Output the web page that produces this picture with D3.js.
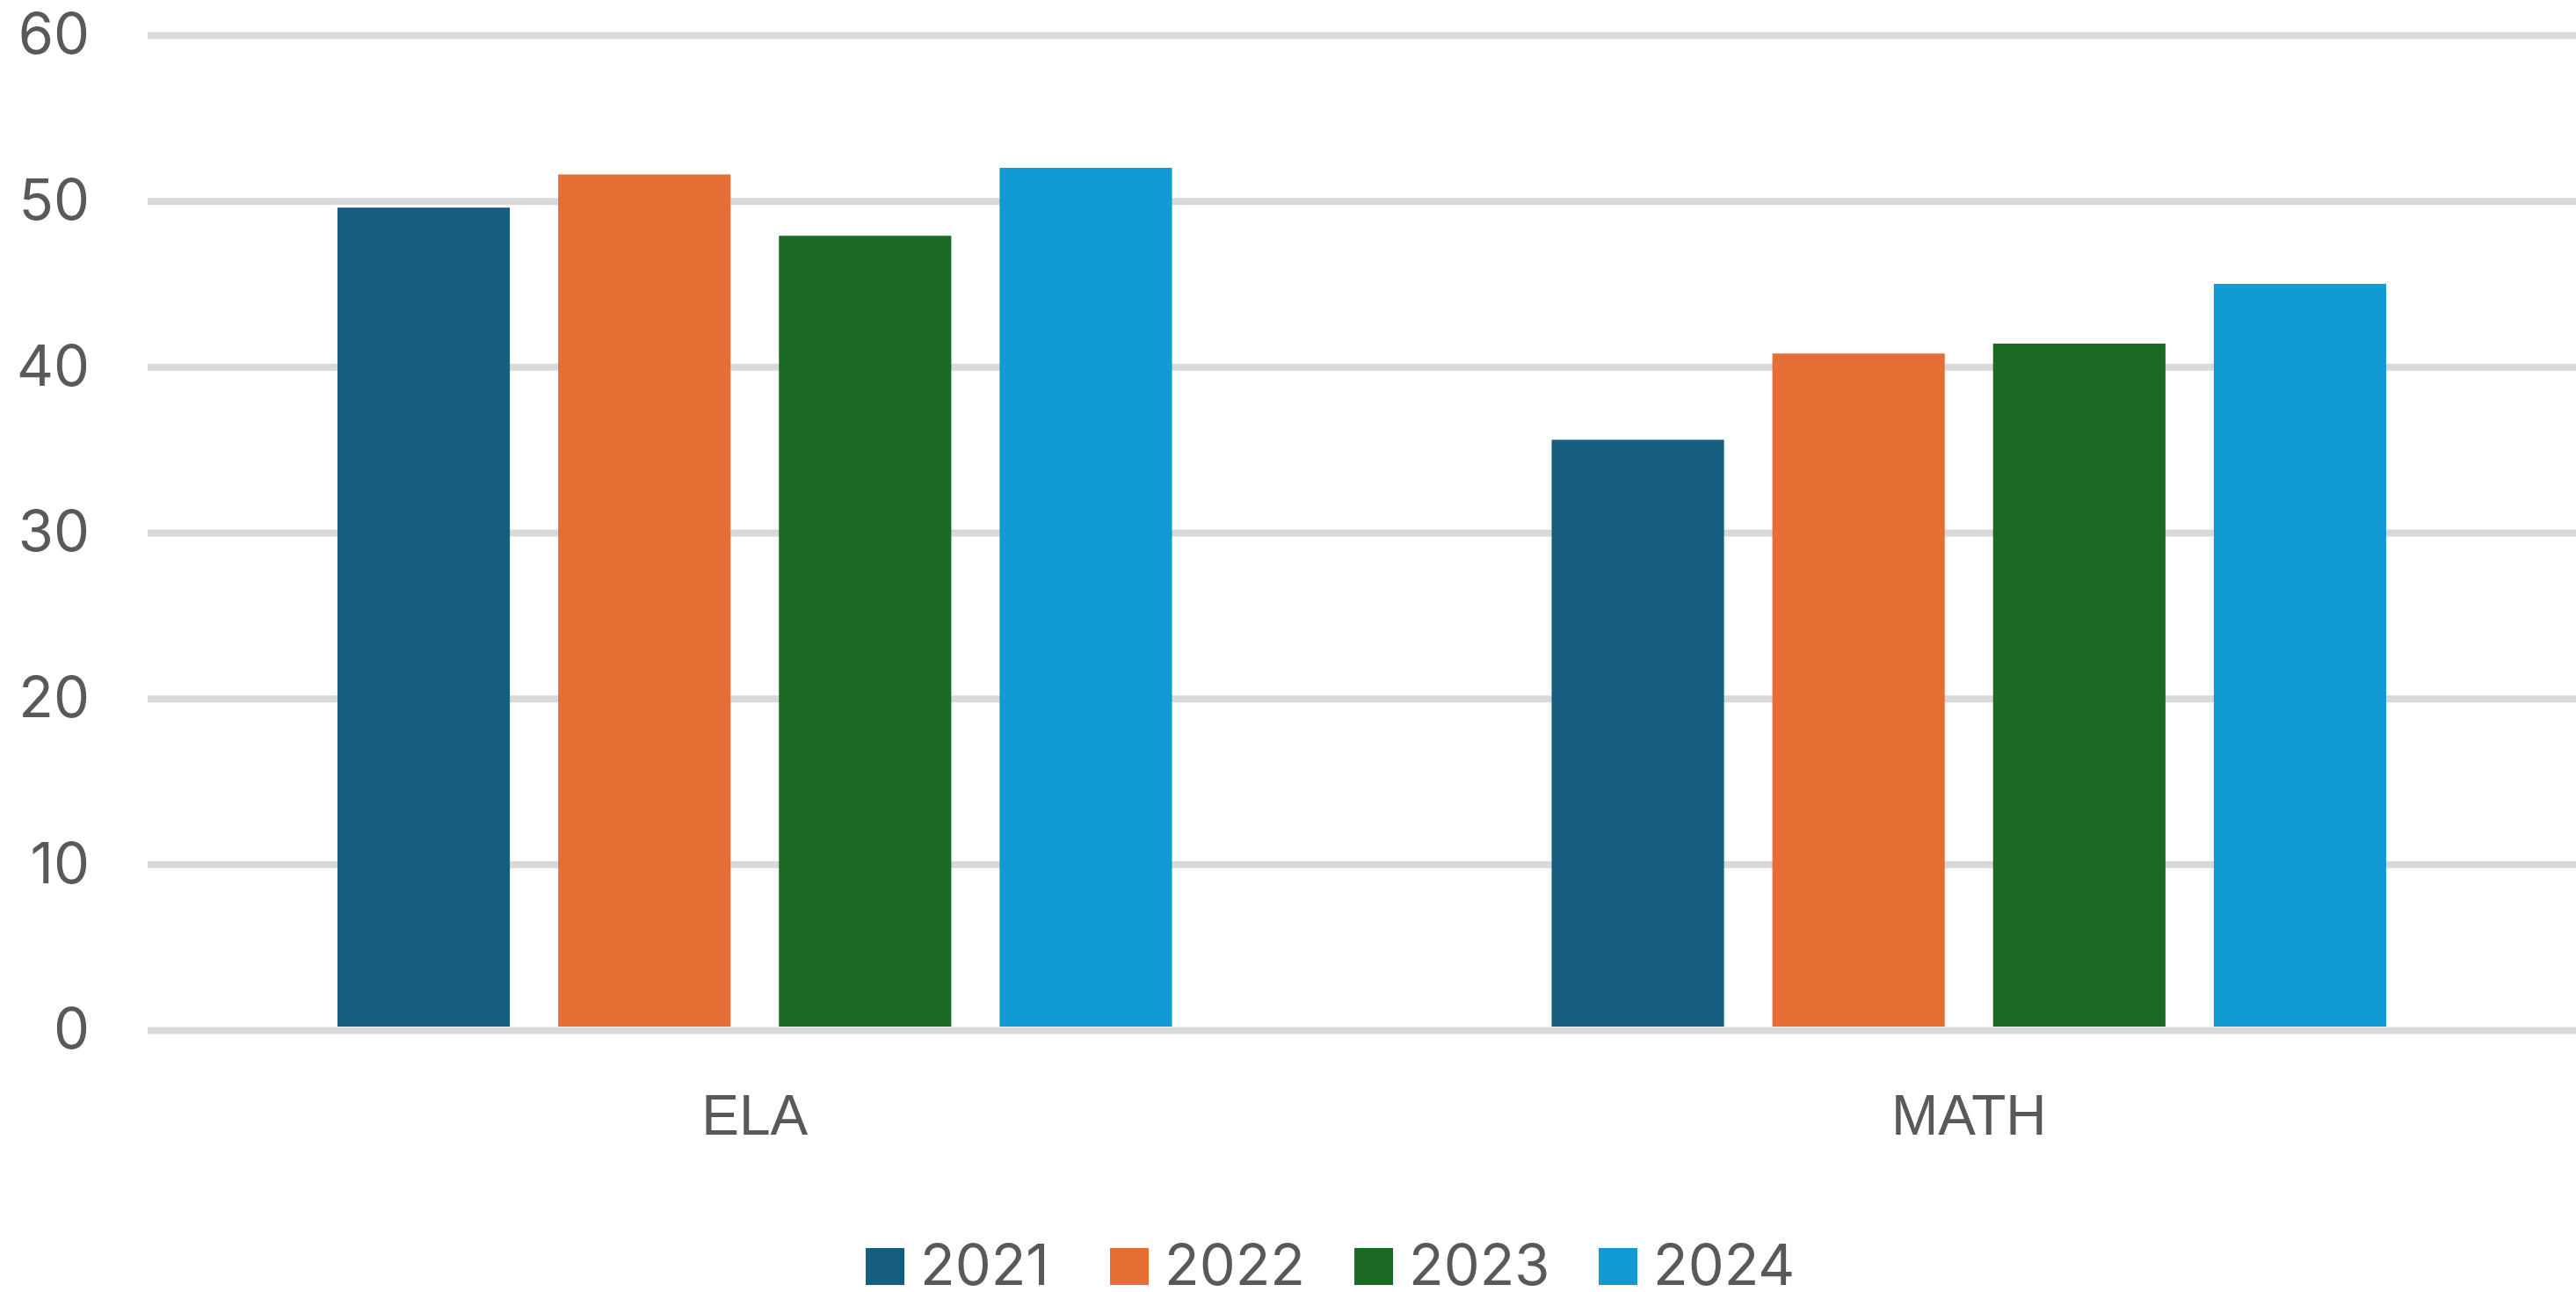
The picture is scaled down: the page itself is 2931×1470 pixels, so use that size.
<!DOCTYPE html>
<html>
<head>
<meta charset="utf-8">
<script src="https://cdn.jsdelivr.net/npm/d3@7"></script>
<style>
  body { margin: 0; background: #fff; }
  text { font-family: "Liberation Sans", Arial, sans-serif; fill: #595959; }
</style>
</head>
<body>
<div id="chart"></div>
<script>
const categories = ['ELA', 'MATH'];
const years = ['2021', '2022', '2023', '2024'];
const ela = [49.6, 51.6, 47.9, 52.0];
const math = [35.6, 40.8, 41.4, 45.0];
const yTicks = [0, 10, 20, 30, 40, 50, 60];
const colors = ['#165e80', '#e66d34', '#1b6a23', '#119bd2'];

const width = 2931;
const height = 1470;
const plotLeft = 168;
const plotTop = 40;
const plotBottom = 1172;
const numFont = 'Inter, "Liberation Sans", sans-serif';

const seriesByCat = { ELA: ela, MATH: math };

const svg = d3.select('#chart')
  .append('svg')
  .attr('width', width)
  .attr('height', height);

const x0 = d3.scaleBand()
  .domain(categories)
  .range([plotLeft, width]);

const x1 = d3.scaleBand()
  .domain(years)
  .range([0, x0.bandwidth()])
  .paddingInner(0.219)
  .paddingOuter(0.86);

const y = d3.scaleLinear()
  .domain([0, 60])
  .range([plotBottom, plotTop]);

const colorScale = d3.scaleOrdinal().domain(years).range(colors);

// gridlines + y labels
const yAxis = d3.axisLeft(y)
  .tickValues(yTicks)
  .tickSize(-(width - plotLeft))
  .tickPadding(66);

svg.append('g')
  .attr('transform', `translate(${plotLeft},0)`)
  .call(yAxis)
  .call((g) => g.select('.domain').remove())
  .call((g) => g.selectAll('.tick line').attr('stroke', '#d9d9d9').attr('stroke-width', 8))
  .call((g) => g.selectAll('.tick text')
    .attr('font-size', 65)
    .attr('fill', '#595959')
    .style('font-family', numFont));

// bars
const groups = svg.append('g')
  .selectAll('g')
  .data(categories)
  .enter()
  .append('g')
  .attr('transform', (d) => `translate(${x0(d)},0)`);

groups.selectAll('rect')
  .data((cat) => years.map((yr, i) => ({ yr, value: seriesByCat[cat][i] })))
  .enter()
  .append('rect')
  .attr('x', (d) => x1(d.yr))
  .attr('width', x1.bandwidth())
  .attr('y', (d) => y(d.value))
  .attr('height', (d) => plotBottom - 4 - y(d.value))
  .attr('fill', (d) => colorScale(d.yr));

// category labels
const xAxis = d3.axisBottom(x0).tickSize(0).tickPadding(0);
svg.append('g')
  .attr('transform', `translate(0,${plotBottom})`)
  .call(xAxis)
  .call((g) => g.select('.domain').remove())
  .call((g) => g.selectAll('.tick text')
    .attr('y', 97)
    .attr('dy', '0.35em')
    .attr('font-size', 64)
    .attr('fill', '#595959')
    .style('font-family', '"Liberation Sans", Arial, sans-serif'));

// legend
const legendX = d3.scalePoint()
  .domain(years)
  .range([985, 1819]);

const legend = svg.append('g')
  .selectAll('g')
  .data(years)
  .enter()
  .append('g')
  .attr('transform', (d) => `translate(${legendX(d)},1439)`);

legend.append('rect')
  .attr('x', 0)
  .attr('y', -19)
  .attr('width', 44)
  .attr('height', 42)
  .attr('fill', (d) => colorScale(d));

legend.append('text')
  .attr('x', 62)
  .attr('dy', '0.36em')
  .attr('font-size', 65)
  .style('font-family', numFont)
  .text((d) => d);
</script>
</body>
</html>
